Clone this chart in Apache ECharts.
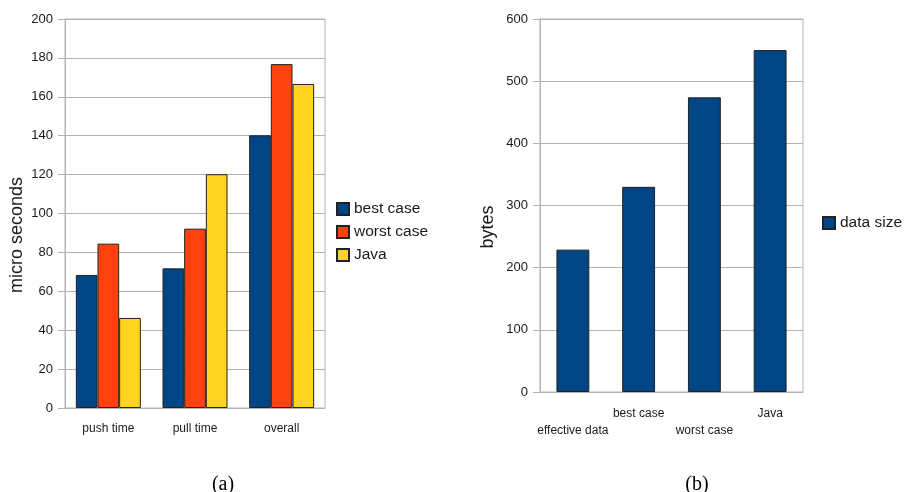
<!DOCTYPE html>
<html>
<head>
<meta charset="utf-8">
<script src="https://cdn.jsdelivr.net/npm/echarts@6/dist/echarts.min.js"></script>
<style>
  html, body { margin: 0; padding: 0; background: #fff; }
  #main { width: 904px; height: 492px; }
</style>
</head>
<body>
<div id="main"></div>
<script>
// (a) timings
var timeCategories = ['push time', 'pull time', 'overall'];
var bestCase = [68.4, 71.8, 140.2];
var worstCase = [84.5, 92.2, 176.8];
var javaTime = [46.3, 120.2, 166.6];
var timeTicks = { min: 0, max: 200, interval: 20 };

// (b) sizes
var sizeCategories = ['effective data', 'best case', 'worst case', 'Java'];
var dataSize = [229, 330, 474, 550];
var sizeTicks = { min: 0, max: 600, interval: 100 };

var font = 'Liberation Sans';
var textColor = '#1a1a1a';
var gridColor = '#b3b3b3';
var colors = ['#004586', '#ff420e', '#ffd320'];

var myChart = echarts.init(document.getElementById('main'));

function valueAxis(idx, ticks) {
    return {
        type: 'value',
        gridIndex: idx,
        min: ticks.min,
        max: ticks.max,
        interval: ticks.interval,
        axisLine: { show: true, lineStyle: { color: gridColor } },
        axisTick: { show: true, length: 7, lineStyle: { color: gridColor } },
        axisLabel: { color: textColor, fontFamily: font, fontSize: 13, margin: 12 },
        splitLine: { lineStyle: { color: gridColor } }
    };
}

var option = {
    animation: false,
    color: colors,
    title: [
        { text: '(a)', left: 218, top: 470, textAlign: 'center',
          textStyle: { fontFamily: 'Liberation Serif', fontSize: 20, fontWeight: 'normal', color: '#000' } },
        { text: '(b)', left: 692, top: 470, textAlign: 'center',
          textStyle: { fontFamily: 'Liberation Serif', fontSize: 20, fontWeight: 'normal', color: '#000' } }
    ],
    legend: [
        {
            orient: 'vertical',
            left: 331,
            top: 196,
            itemWidth: 12,
            itemHeight: 12,
            itemGap: 7,
            icon: 'rect',
            data: ['best case', 'worst case', 'Java'],
            textStyle: { color: textColor, fontFamily: font, fontSize: 15.5 }
        },
        {
            orient: 'vertical',
            left: 817,
            top: 210,
            itemWidth: 12,
            itemHeight: 12,
            icon: 'rect',
            data: ['data size'],
            textStyle: { color: textColor, fontFamily: font, fontSize: 15.5 }
        }
    ],
    grid: [
        { left: 65, top: 19, width: 260, height: 389, show: true, borderColor: gridColor, borderWidth: 1 },
        { left: 540, top: 19, width: 263, height: 373, show: true, borderColor: gridColor, borderWidth: 1 }
    ],
    xAxis: [
        {
            type: 'category',
            gridIndex: 0,
            data: timeCategories,
            axisLine: { lineStyle: { color: gridColor } },
            axisTick: { alignWithLabel: true, length: 6, lineStyle: { color: gridColor } },
            axisLabel: { color: textColor, fontFamily: font, fontSize: 12, margin: 14, lineHeight: 14 }
        },
        {
            type: 'category',
            gridIndex: 1,
            data: sizeCategories,
            axisLine: { lineStyle: { color: gridColor } },
            axisTick: { alignWithLabel: true, length: 6, lineStyle: { color: gridColor } },
            axisLabel: {
                interval: 0,
                color: textColor, fontFamily: font, fontSize: 12, margin: 13, lineHeight: 17,
                // staggered labels
                formatter: function(v, i) { return i % 2 === 0 ? '\n' + v : v; }
            }
        }
    ],
    yAxis: [valueAxis(0, timeTicks), valueAxis(1, sizeTicks)],
    graphic: [
        { type: 'text', x: 17, y: 235, rotation: Math.PI / 2,
          style: { text: 'micro seconds', font: '18px "Liberation Sans"', fill: textColor,
                   textAlign: 'center', textVerticalAlign: 'middle' } },
        { type: 'text', x: 488, y: 227, rotation: Math.PI / 2,
          style: { text: 'bytes', font: '18px "Liberation Sans"', fill: textColor,
                   textAlign: 'center', textVerticalAlign: 'middle' } }
    ],
    series: [
        {
            name: 'best case', type: 'bar', xAxisIndex: 0, yAxisIndex: 0,
            barGap: '0%', barCategoryGap: '25%',
            itemStyle: { color: colors[0], borderColor: '#222', borderWidth: 1 },
            data: bestCase
        },
        {
            name: 'worst case', type: 'bar', xAxisIndex: 0, yAxisIndex: 0,
            barGap: '0%', barCategoryGap: '25%',
            itemStyle: { color: colors[1], borderColor: '#222', borderWidth: 1 },
            data: worstCase
        },
        {
            name: 'Java', type: 'bar', xAxisIndex: 0, yAxisIndex: 0,
            barGap: '0%', barCategoryGap: '25%',
            itemStyle: { color: colors[2], borderColor: '#222', borderWidth: 1 },
            data: javaTime
        },
        {
            name: 'data size', type: 'bar', xAxisIndex: 1, yAxisIndex: 1,
            barCategoryGap: '50%',
            itemStyle: { color: colors[0], borderColor: '#222', borderWidth: 1 },
            data: dataSize
        }
    ]
};

myChart.setOption(option);
window.addEventListener('resize', function() {
    myChart.resize();
});
</script>
</body>
</html>
